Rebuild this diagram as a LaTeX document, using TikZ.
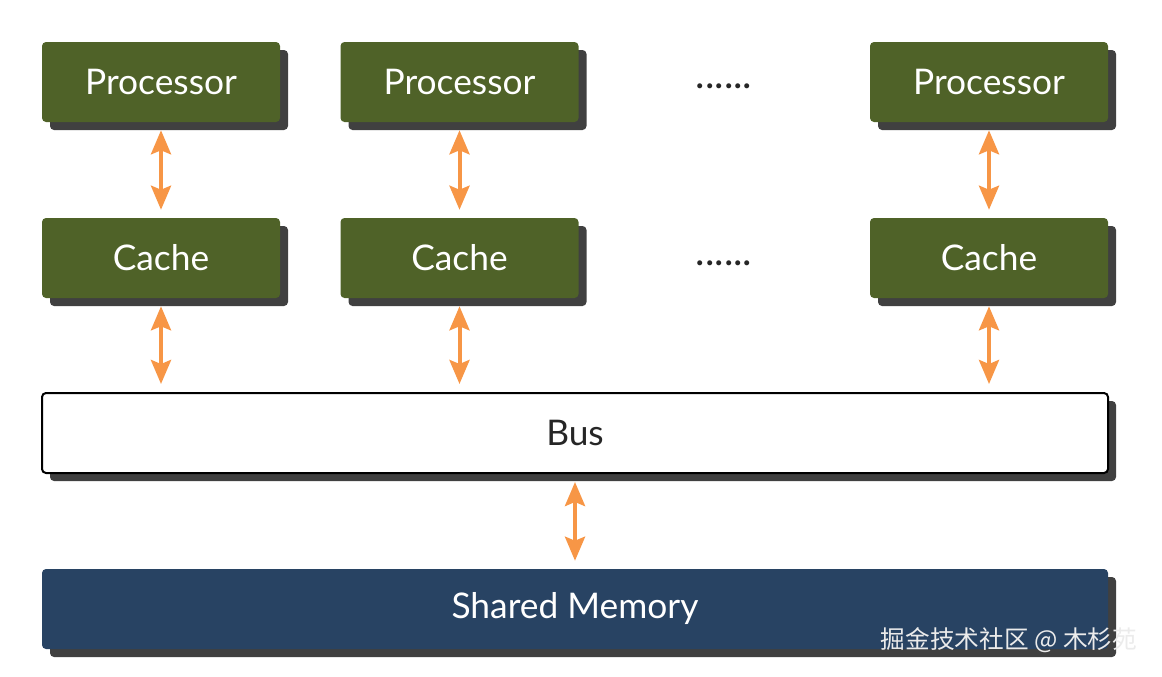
\documentclass[tikz,border=0pt]{standalone}
\usepackage{fontspec}
\setmainfont{Lato}
\newfontfamily\cjk{Noto Sans CJK SC}
\usetikzlibrary{shadows,arrows.meta}
\definecolor{boxgreen}{HTML}{4F6228}
\definecolor{memblue}{HTML}{284363}
\definecolor{linkorange}{HTML}{F79646}
\definecolor{shadowgray}{HTML}{404040}

\begin{document}
\begin{tikzpicture}[x=0.75pt,y=-0.75pt,
	box/.style={rounded corners=3pt,minimum width=178.5pt,minimum height=60pt,inner sep=0pt,fill=boxgreen,text=white,font=\fontsize{26.5}{30}\selectfont,drop shadow={shadow xshift=6pt,shadow yshift=-6pt,fill=shadowgray,opacity=1}},
	wide/.style={box,minimum width=799.5pt},
	link/.style={{Stealth[length=18pt,width=15pt,inset=3pt]}-{Stealth[length=18pt,width=15pt,inset=3pt]},line width=3pt,draw=linkorange,shorten <=6pt,shorten >=6pt},
	more/.style={font=\fontsize{30}{30}\selectfont,text=black!85}]

	\useasboundingbox (0,0) rectangle (1162,676);

	\node[box] (proc1) at (161,82) {Processor};
	\node[box] (proc2) at (459.5,82) {Processor};
	\node[box] (procn) at (989,82) {Processor};
	\node[more] (pdots) at (724,86) {......};

	\node[box] (cache1) at (161,258) {Cache};
	\node[box] (cache2) at (459.5,258) {Cache};
	\node[box] (cachen) at (989,258) {Cache};
	\node[more] (cdots) at (724,263) {......};

	\node[wide, fill=white, draw=black, line width=1.5pt, text=black!85] (bus) at (575,433) {Bus};
	\node[wide, fill=memblue] (mem) at (575,609) {Shared Memory};

	\draw[link] (proc1) -- (cache1);
	\draw[link] (proc2) -- (cache2);
	\draw[link] (procn) -- (cachen);
	\draw[link] (cache1) -- (cache1 |- bus.north);
	\draw[link] (cache2) -- (cache2 |- bus.north);
	\draw[link] (cachen) -- (cachen |- bus.north);
	\draw[link] (bus) -- (mem);

	\node[font=\cjk\fontsize{18.5}{20}\selectfont, text=black!8, anchor=east] (mark) at (1142,640) {掘金技术社区 @ 木杉苑};

\end{tikzpicture}
\end{document}
